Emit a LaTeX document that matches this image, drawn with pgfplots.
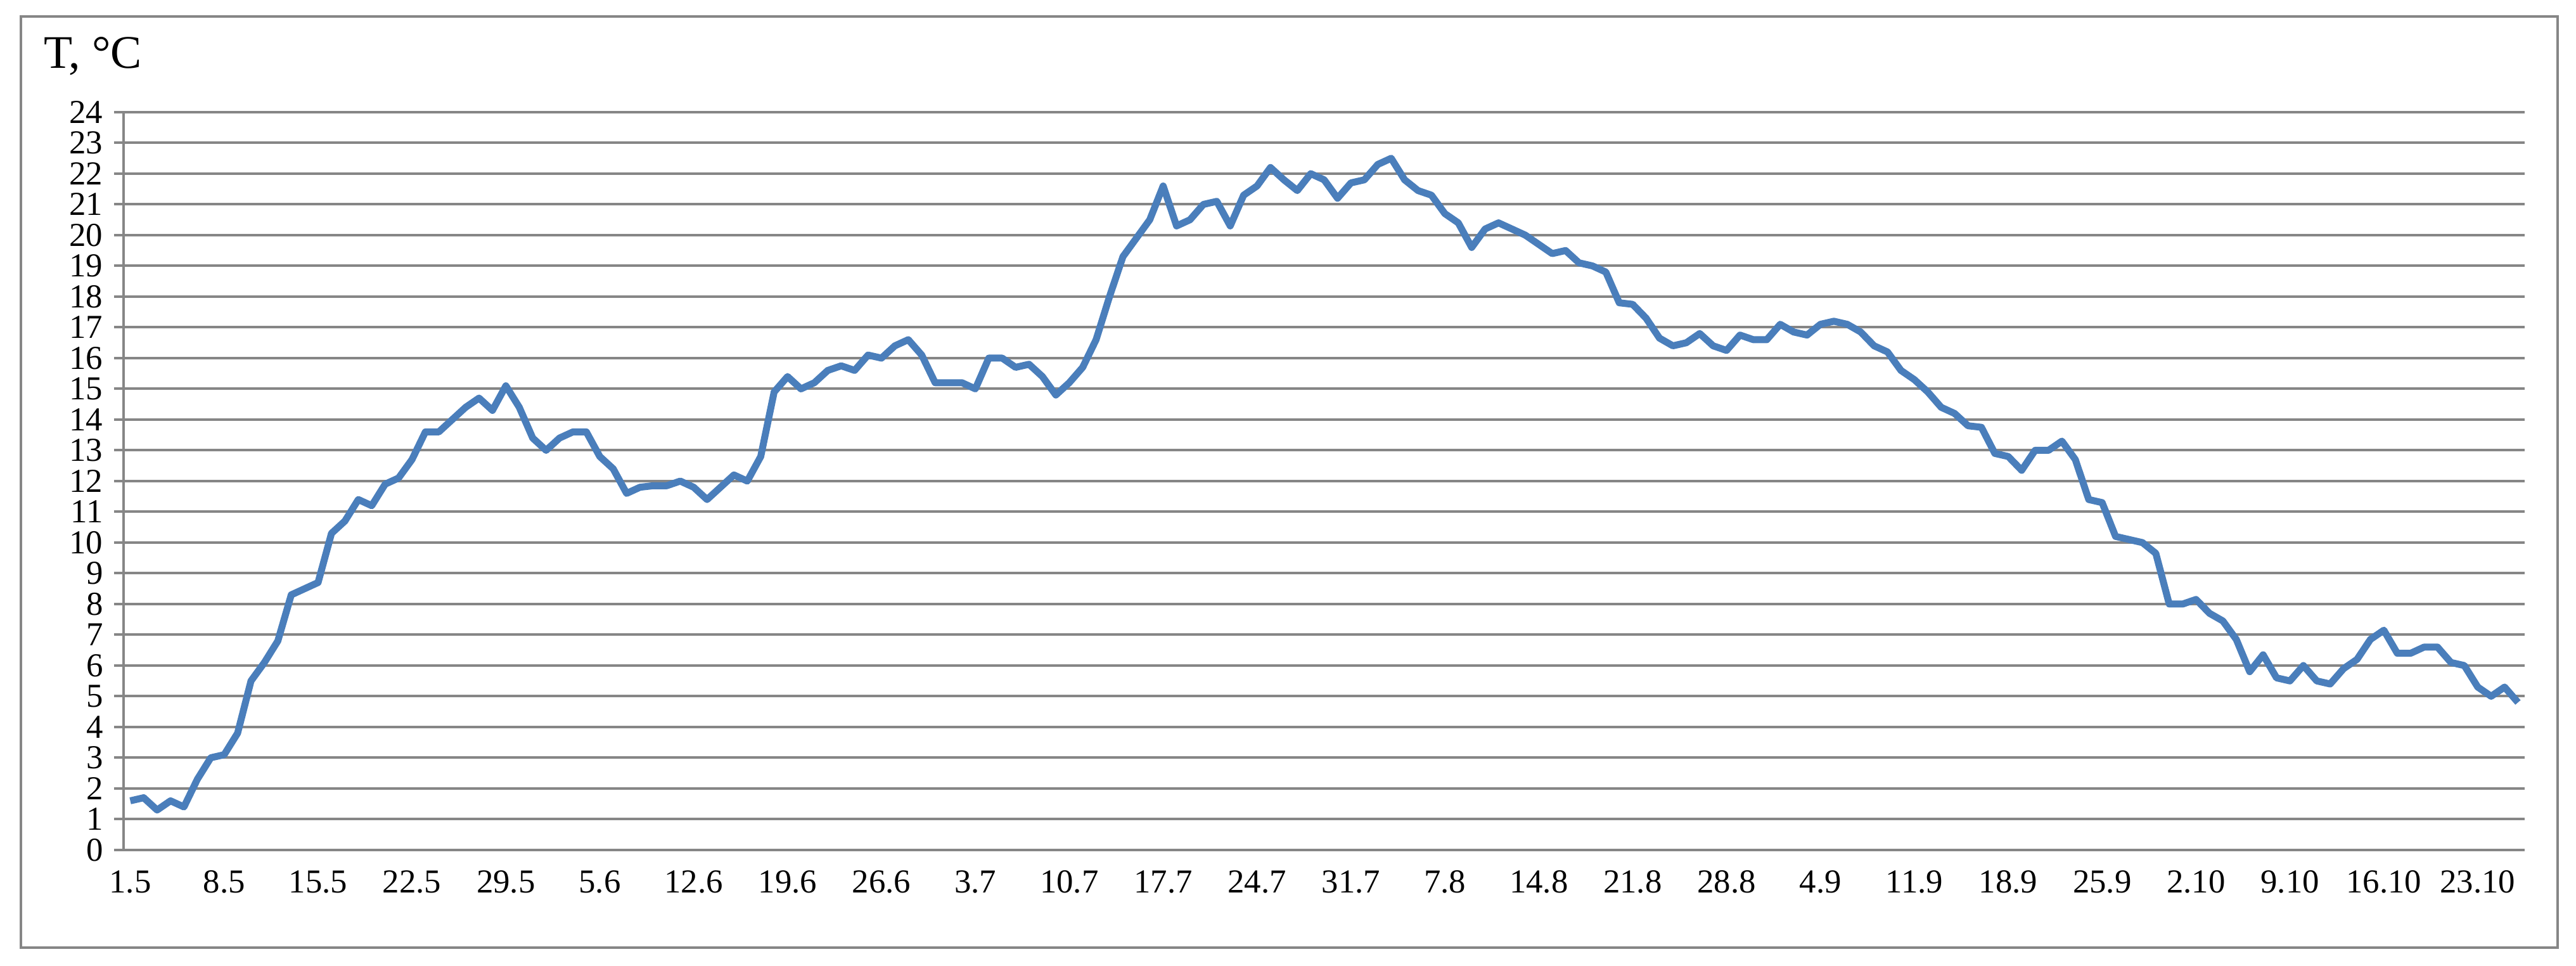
\documentclass[border=0pt]{standalone}
\usepackage{fontspec}
\setmainfont{Liberation Serif}
\usepackage{pgfplots}
\pgfplotsset{compat=1.18}
\definecolor{lineblue}{RGB}{74,126,187}
\definecolor{gridgray}{RGB}{134,134,134}

\begin{document}
\begin{tikzpicture}
\useasboundingbox (0,0) rectangle (813bp,304.8bp);
\draw[gridgray, line width=0.7bp] (6.6bp,5.8bp) rectangle (807.2bp,299.6bp);
\begin{axis}[
    at={(39bp,36.6bp)}, anchor=south west,
    scale only axis,
    width=757.8bp, height=232.8bp,
    xmin=-0.5, xmax=178.5,
    ymin=0, ymax=24,
    axis lines=left,
    axis line style={-, gridgray, line width=0.8bp},
    ytick={0,1,...,24},
    xtick={0,7,...,175},
    xticklabels={1.5,8.5,15.5,22.5,29.5,5.6,12.6,19.6,26.6,3.7,10.7,17.7,24.7,31.7,7.8,14.8,21.8,28.8,4.9,11.9,18.9,25.9,2.10,9.10,16.10,23.10},
    x tick style={draw=none},
    extra x ticks={-0.5,6.5,...,174.5},
    extra x tick labels={},
    extra x tick style={grid=none, tick style={draw=gridgray, line width=0.7bp}},
    y tick style={gridgray, line width=0.8bp},
    tick align=outside,
    major tick length=3bp,
    ymajorgrids=true,
    grid style={gridgray, line width=0.8bp},
    tick label style={font=\fontsize{10.6}{12}\selectfont},
    /pgf/number format/assume math mode=true,
    ylabel={T, °C},
    ylabel style={rotate=-90, anchor=base west, at={(axis description cs:-0.0335,1.0593)}, inner sep=0pt, font=\fontsize{14.8}{17}\selectfont},
]
\addplot[lineblue, line width=2.2bp, line join=round] coordinates {
(0,1.6) (1,1.7) (2,1.3) (3,1.6) (4,1.4) (5,2.3) (6,3.0) (7,3.1) (8,3.8) (9,5.5)
(10,6.1) (11,6.8) (12,8.3) (13,8.5) (14,8.7) (15,10.3) (16,10.7) (17,11.4) (18,11.2) (19,11.9)
(20,12.1) (21,12.7) (22,13.6) (23,13.6) (24,14.0) (25,14.4) (26,14.7) (27,14.3) (28,15.1) (29,14.4)
(30,13.4) (31,13.0) (32,13.4) (33,13.6) (34,13.6) (35,12.8) (36,12.4) (37,11.6) (38,11.8) (39,11.85)
(40,11.85) (41,12.0) (42,11.8) (43,11.4) (44,11.8) (45,12.2) (46,12.0) (47,12.8) (48,14.9) (49,15.4)
(50,15.0) (51,15.2) (52,15.6) (53,15.75) (54,15.6) (55,16.1) (56,16.0) (57,16.4) (58,16.6) (59,16.1)
(60,15.2) (61,15.2) (62,15.2) (63,15.0) (64,16.0) (65,16.0) (66,15.7) (67,15.8) (68,15.4) (69,14.8)
(70,15.2) (71,15.7) (72,16.6) (73,18.0) (74,19.3) (75,19.9) (76,20.5) (77,21.6) (78,20.3) (79,20.5)
(80,21.0) (81,21.1) (82,20.3) (83,21.3) (84,21.6) (85,22.2) (86,21.8) (87,21.45) (88,22.0) (89,21.8)
(90,21.2) (91,21.7) (92,21.8) (93,22.3) (94,22.5) (95,21.8) (96,21.45) (97,21.3) (98,20.7) (99,20.4)
(100,19.6) (101,20.2) (102,20.4) (103,20.2) (104,20.0) (105,19.7) (106,19.4) (107,19.5) (108,19.1) (109,19.0)
(110,18.8) (111,17.8) (112,17.75) (113,17.3) (114,16.65) (115,16.4) (116,16.5) (117,16.8) (118,16.4) (119,16.25)
(120,16.75) (121,16.6) (122,16.6) (123,17.1) (124,16.85) (125,16.75) (126,17.1) (127,17.2) (128,17.1) (129,16.85)
(130,16.4) (131,16.2) (132,15.6) (133,15.3) (134,14.9) (135,14.4) (136,14.2) (137,13.8) (138,13.75) (139,12.9)
(140,12.8) (141,12.35) (142,13.0) (143,13.0) (144,13.3) (145,12.7) (146,11.4) (147,11.3) (148,10.2) (149,10.1)
(150,10.0) (151,9.65) (152,8.0) (153,8.0) (154,8.15) (155,7.7) (156,7.45) (157,6.85) (158,5.8) (159,6.35)
(160,5.6) (161,5.5) (162,6.0) (163,5.5) (164,5.4) (165,5.9) (166,6.2) (167,6.85) (168,7.15) (169,6.4)
(170,6.4) (171,6.6) (172,6.6) (173,6.1) (174,6.0) (175,5.3) (176,5.0) (177,5.3) (178,4.8)
};
\end{axis}
\end{tikzpicture}
\end{document}
